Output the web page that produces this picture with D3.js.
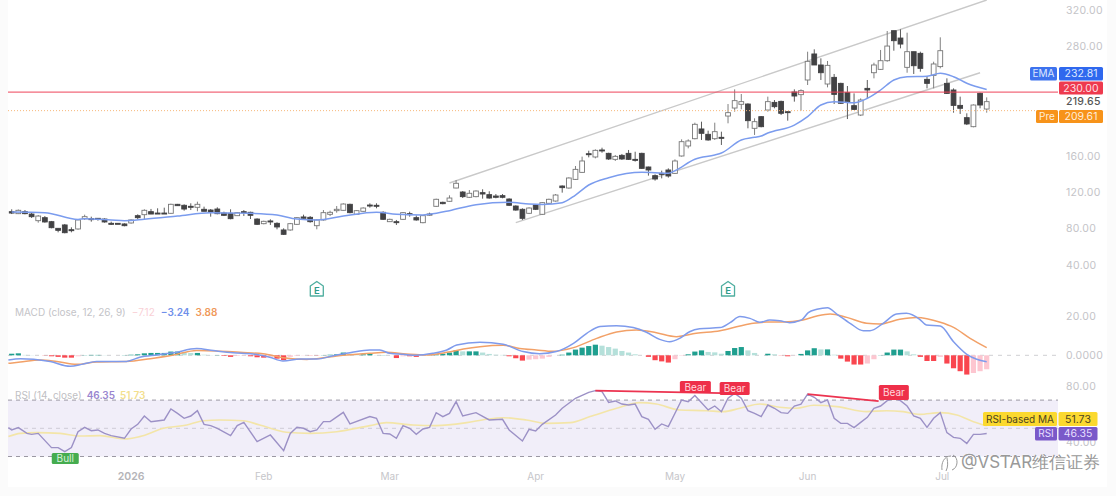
<!DOCTYPE html>
<html>
<head>
<meta charset="utf-8">
<script src="https://cdnjs.cloudflare.com/ajax/libs/d3/7.9.0/d3.min.js"></script>
<style>
html,body{margin:0;padding:0;background:#fbfbfb;overflow:hidden}
svg{display:block}
text{font-family:Inter,"Noto Sans",sans-serif}
</style>
</head>
<body>
<svg id="chart" width="1116" height="496"></svg>
<script>
// Daily candles, one entry per session
const opens=[98.6,96.4,98.6,96.0,88.7,92.0,87.6,80.3,84.0,78.8,79.6,90.9,90.9,91.3,90.5,85.8,85.8,85.1,86.2,94.2,95.3,98.6,97.1,97.1,96.8,106.7,105.6,104.5,103.4,101.2,100.4,101.5,97.1,96.8,94.2,98.6,97.9,90.5,85.4,88.4,85.8,78.5,78.5,84.7,92.8,92.4,83.2,89.5,95.7,99.7,100.1,106.7,95.7,99.0,105.9,105.6,97.9,87.6,87.6,90.2,96.4,92.0,86.5,96.0,104.5,108.9,110.0,124.6,120.2,114.4,115.1,119.5,117.3,115.8,116.2,112.5,104.8,101.2,96.8,105.9,95.7,107.8,110.3,126.8,124.6,134.1,141.8,162.3,158.7,166.4,162.7,156.1,160.5,162.7,156.1,162.7,147.7,138.2,140.7,144.4,140.7,159.8,170.8,178.8,189.5,183.6,178.8,180.3,203.7,212.5,216.6,216.9,190.2,203.0,210.3,218.7,219.8,208.5,230.1,227.2,243.3,271.9,259.8,238.9,246.2,239.6,229.4,215.1,204.8,234.1,251.3,255.0,264.5,297.5,289.4,257.2,274.4,272.6,244.0,248.4,258.0,239.6,232.3,215.4,201.9,192.0,228.6,211.4];
const highs=[101.2,101.0,100.4,97.5,94.9,93.8,88.4,80.3,85.1,81.4,90.2,95.3,93.1,91.3,91.3,87.6,85.8,85.8,90.2,95.7,101.2,101.6,102.3,103.0,107.4,107.1,106.7,107.8,109.6,104.1,101.5,103.4,98.6,101.2,98.2,100.4,98.6,91.3,88.7,90.2,86.9,80.3,86.2,92.7,95.3,93.8,90.2,100.4,99.7,104.8,107.8,107.4,100.4,103.4,107.8,107.8,99.0,90.9,89.5,98.2,98.6,94.6,94.9,97.5,112.9,109.6,116.6,133.4,121.3,122.4,122.0,123.2,121.0,118.0,118.0,113.3,105.6,102.3,103.4,106.7,109.2,112.9,118.0,127.5,136.3,148.8,159.1,165.6,167.1,168.9,163.4,160.9,162.0,166.4,164.5,163.4,148.1,139.6,143.7,146.2,156.1,178.1,178.1,196.4,197.5,187.6,196.4,186.5,216.9,233.0,227.9,217.7,201.2,203.7,225.0,221.3,220.6,208.5,233.0,233.0,274.4,277.0,267.1,264.2,249.9,240.3,236.7,228.6,223.1,243.3,262.3,276.3,297.1,297.5,299.0,295.3,274.4,274.4,247.7,263.4,290.2,245.1,234.1,225.0,206.7,216.5,229.4,224.2];
const lows=[96.0,96.0,95.7,91.7,86.5,86.5,80.3,75.9,74.8,75.9,78.8,89.5,87.6,88.7,86.5,84.0,85.1,82.5,85.4,90.2,90.2,96.0,96.4,96.4,96.4,105.2,99.7,100.4,99.0,99.0,93.1,95.7,93.8,90.2,93.8,93.8,90.5,84.0,84.7,84.0,79.2,73.0,77.7,84.0,90.5,86.5,79.2,88.7,93.8,97.5,99.7,96.8,95.3,98.6,103.0,102.3,89.5,87.3,84.0,89.5,93.1,88.7,85.8,94.6,103.8,106.7,109.6,124.3,113.6,113.6,114.4,112.9,112.9,113.3,113.3,104.8,99.7,89.5,96.0,100.4,95.0,107.0,109.6,119.5,123.9,133.4,141.5,158.3,157.2,163.4,155.4,154.3,155.4,155.4,153.6,145.5,138.2,132.7,135.2,136.0,140.0,159.1,168.2,178.1,177.4,176.6,177.4,171.9,195.7,208.5,211.1,190.2,182.9,191.3,208.5,212.2,204.8,198.6,219.5,209.6,237.8,259.8,243.3,235.2,216.9,217.0,200.4,210.3,203.7,223.1,245.1,254.3,263.4,275.5,278.1,251.3,249.9,252.4,234.1,234.1,256.1,227.9,207.4,206.0,193.8,191.3,212.2,207.4];
const closes=[97.1,100.1,96.4,93.1,93.8,87.3,81.0,78.1,75.5,77.7,89.5,93.1,90.2,90.2,87.3,84.7,85.1,83.2,89.5,92.0,100.1,96.0,96.4,96.4,106.7,105.2,101.5,103.4,106.7,99.0,98.2,96.4,94.6,90.9,97.5,97.9,94.6,84.7,88.0,87.6,81.8,73.7,85.4,92.0,91.3,87.6,89.5,97.5,97.9,101.2,107.0,97.5,99.7,102.6,104.8,104.8,90.2,90.2,86.9,97.5,95.7,89.5,94.2,95.3,112.2,107.4,113.6,129.8,115.1,118.8,121.3,118.0,113.6,114.4,114.4,105.6,100.4,91.3,102.6,101.2,108.5,112.2,116.9,125.0,135.6,145.1,154.3,161.6,166.0,165.3,156.5,159.4,156.5,156.1,155.4,146.2,144.4,134.5,139.6,137.8,154.3,175.5,176.3,194.6,184.7,177.4,186.5,179.2,207.4,220.6,219.5,198.6,197.5,192.0,219.5,214.0,206.7,207.8,225.7,231.6,263.8,259.8,251.3,259.4,227.5,217.7,219.5,211.0,221.3,232.3,259.8,264.5,280.6,286.5,282.8,274.4,259.0,256.1,239.6,260.9,275.5,228.6,215.4,212.2,195.0,215.8,215.8,219.5];

// 20-period EMA, sampled at the session index
const emaIdx=[0,5,10,11,15,17,20,25,30,33,36,40,43,46,50,55,58,62,63,66,70,75,78,80,83,85,87,90,95,97,99,100,103,106,107,110,112,113,114,118,120,122,124,127,129,131,133,135,138,140,142,144,147];
const emaVal=[98.2,97.5,90,90.9,89.5,88.7,90.2,93.8,97.5,97.1,96.8,94.9,90.5,89.5,93.8,97.9,95.7,94.9,95.7,99.7,106.3,108.9,107,106.5,108.5,116.9,127.9,135.9,141.9,141.4,140.8,143.6,156.2,160.9,163,177.4,180.3,181.8,185,193.8,203,215.8,219.5,218.3,223.2,232.3,243.3,246.9,247.4,250.7,246.9,239.7,232.81];

// MACD pane
const macdIdx=[-0.5,1.3,3.3,5.8,8.8,10.8,12.8,17.3,19.3,21.9,24.4,27.9,30.4,33.4,36.4,38.9,40.9,43.5,46,48.5,51,54,55.5,57,59,61,63.5,65.6,67.1,70.6,74.1,77.1,79.6,82.1,84.7,86.7,88.7,91.2,93.7,95.7,97.7,99.2,100.7,102.2,103.7,106.8,108.3,109.8,111.3,112.8,114.3,115.8,117.3,119.1,120.1,121.4,123,124.4,126.4,128.4,129.4,131.4,133.4,134.9,136.9,137.9,140,142,144,145.5,147];
const macdVal=[-2.4,-1.7,-2.0,-3.2,-5.6,-4.4,-3.2,-3.1,-1.0,0.2,1.3,3.4,2.4,1.3,0.7,-1.0,-2.9,-1.9,-1.9,-0.2,1.3,2.7,2.7,1.0,0.5,0,1.0,2.7,5.2,6.6,5.6,1.9,0.8,1.9,6.1,11.2,14.7,15.1,14.1,11.7,8.1,6.9,8.6,12.0,13.5,14.1,16.6,19.7,18.8,16.8,18,17.6,16.6,18,21.7,23.4,24.2,21,16.3,12.5,12.5,16.3,21,21.4,18.3,15.4,14.9,6.9,0.5,-2.0,-3.24];
const signalIdx=[-0.5,1.3,4.3,6.8,9.8,12.8,17.3,20.9,24.4,27.9,30.9,34.4,37.9,40.9,44.5,46.5,49,54,56.5,59.5,62.5,65.6,68.1,70.6,74.1,76.6,79.1,81.6,84.7,88.2,91.2,94.2,97.2,100.2,103.2,106.8,109.8,111.8,113.8,116.3,119.3,121.4,123.4,125.9,128.9,130.9,133.9,136.4,140,142,144.5,147];
const signalVal=[-4.1,-3.4,-2.4,-3.2,-4.6,-3.4,-3.2,-1.7,0.2,2.4,2.2,1.5,0.8,-1.2,-2.1,-1.5,-0.4,1.0,1.5,0.7,0.2,1.5,3.2,4.4,5.1,3.5,2.7,2.0,3.9,8.6,11.9,12.9,11.5,9.5,11.2,12.5,14.9,16.3,16.9,16.9,18,20,21,19.3,16.3,15.9,18.3,19.2,16.8,14.2,8.6,3.88];
const histVal=[.8,1,.2,.1,0,-.1,-.5,-.8,-1.2,-1.2,-.5,.1,.2,.2,.1,0,0,.1,.3,.5,1,1.2,1.2,1.2,1.9,1.9,1.4,1.2,1.2,.3,.1,.1,-.3,-.8,-.3,-.2,-.5,-1,-1.2,-.7,-1.7,-2.5,-.8,-.3,-.1,-.1,-.1,.1,.3,.5,1.4,.8,.5,.5,.8,.1,.1,0,-1.4,-.5,-.5,-.8,-.3,.1,.5,.8,1.4,2.5,2,2,2,1.4,.7,.3,.2,-.5,-1.5,-2.7,-2.2,-2,-1.7,-.8,0,.3,1.4,2.9,3.9,4.7,5.4,4.9,4.2,3.4,2.2,1.4,.5,0,-.8,-2.5,-3.1,-3.7,-2,-.2,.5,1.9,2.5,1.7,1.5,.8,2.2,3.7,4.2,2.5,1.2,0,.8,.5,-.1,-.5,-.1,.7,2.5,3.6,3,3,.3,-1.7,-3.2,-4.7,-4.7,-4.2,-2,.1,1.4,2.9,2.9,2,.5,-.8,-2.9,-2.9,-.8,-4.2,-6.6,-8.1,-9.8,-9,-8.1,-7.12];

// RSI pane
const rsiIdx=[-0.5,0,1,2.3,3,4,6,7,8,9,10,11,12,13,14,15,17,18,19,20,21,23,24,25,26,27,28,29,30,31,33,34,35,37,39,41,42,43,44,45,46,47,48,50,51,54,55,56,57,58,59,60,61,62,63,64,65,66,67,68,70,72,74,75,77,78,79,80,82,83,85,87,88,89,90,91,92,93,94,95,96,97,98,99,101,102,103,105,106,107,108,109,110,111,112,113,114,115,116,117,118,119,120,121,122,123,124,125,126,127,128,129,130,131,132,133,134,135,136,137,138,139,140,141,142,143,144,145,146,147];
const rsiVal=[50.5,48.8,50.5,46.4,45.7,46.4,36.3,36.3,33.4,36.3,47.6,50.7,48.3,48.8,46.4,44.8,42.9,49.5,52.8,58.7,54.7,55.9,63.7,60.6,57.1,58.7,62.5,52.8,51.9,50,44.8,51.9,54.2,40.5,45.3,34.2,46.4,50.7,50,47.6,48.8,54.7,54.7,61.3,53.1,58.3,57.1,46.4,46,42.9,51.9,50,45.7,49.5,50.7,61.1,58.3,60.6,68.9,58.7,61.1,55.9,56.4,48.8,41,49.3,48.1,52.8,59.4,64.2,71.3,75.5,76.7,76,68.4,69.4,67.2,66.5,67.2,58.3,56.4,49.3,53.1,51.2,70.1,68.9,73.2,63,65.8,61.8,71.3,74.8,71.3,62.5,60.6,58.3,66.5,64.2,61.1,60.6,65.8,67.2,74.3,72,68.2,70.1,57.1,53.5,53.5,50.5,54.2,57.8,64.2,65.8,69.6,71.3,69.6,65.8,58.7,57.1,50.7,57.1,61.1,46.9,43.6,42.9,39.3,45.7,45.7,46.35];
const rsiMaIdx=[-0.5,1.3,3.8,7.3,10.3,13.3,17,19.3,22.9,26.4,28.9,31.4,34.9,37.4,41.4,45,49,54,56.5,60.5,64,68.6,71.6,74.1,77.6,80.6,84.2,87.2,91.2,94.7,97.2,100.7,104.8,107.3,109.8,112.8,115.8,118.3,120.9,124.4,128.9,131.9,134.4,136.9,140,142.5,145,147];
const rsiMaVal=[44.1,46.4,46.9,46.4,44.5,44.8,42.4,44.1,50,52.3,55.4,55.9,55.4,52.3,47.2,46.4,47.6,51.9,54,52.3,51.9,54,56.4,57.5,55.9,53.5,54,58.3,64.2,68.2,67.2,63,62.5,61.8,64.2,67.2,64.9,64.2,66.3,65.4,61.8,62.5,61.8,59.9,61.1,59.4,54.7,51.73];

// Annotations
const channelUpperIdx=[66,147], channelUpperVal=[130.1,331.2];
const channelLowerIdx=[76,146], channelLowerVal=[86.5,251.3];
const divergenceA={idx:[88,109],val:[76.7,74.8]};
const divergenceB={idx:[120,130.7],val:[74.3,69.2]};
const earningsIdx=[46,108];
const priceTicks=[320,280,160,120,80,40];
const macdTicks=[20,0];
const rsiTicks=[80,40];
const monthLabels=["2026","Feb","Mar","Apr","May","Jun","Jul"];
const monthIdx=[18,38,57,79,100,120,140.3];

const PLOT_L=8, PLOT_R=1058;
const svg=d3.select("#chart");
const x=d3.scaleLinear().domain([0,147]).range([11.7,986.7]);
const yPrice=d3.scaleLinear().domain([40,320]).range([265,10.2]);
const yMacd=d3.scaleLinear().domain([0,20]).range([355.3,316]);
const yRsi=d3.scaleLinear().domain([30,70]).range([456.5,400.1]);

const GREY="#c4c4c8";
svg.append("rect").attr("x",8).attr("y",0).attr("width",1099).attr("height",487).attr("fill","#fff");

// ---------- price pane ----------
const gP=svg.append("g");
const seg=(g,a,b,c)=>g.append("line").attr("x1",x(a.i[0])).attr("x2",x(a.i[1])).attr("y1",b(a.v[0])).attr("y2",b(a.v[1])).attr("stroke",c.color).attr("stroke-width",c.w);
seg(gP,{i:channelUpperIdx,v:channelUpperVal},yPrice,{color:"#c9c9c9",w:1.4});
seg(gP,{i:channelLowerIdx,v:channelLowerVal},yPrice,{color:"#c9c9c9",w:1.4});

const session=d3.range(opens.length);
gP.selectAll("line.wick").data(session).join("line").attr("class","wick")
  .attr("x1",i=>x(i)).attr("x2",i=>x(i)).attr("y1",i=>yPrice(highs[i])).attr("y2",i=>yPrice(lows[i]))
  .attr("stroke",i=>closes[i]>=opens[i]?"#808080":"#5c5c5c").attr("stroke-width",1);
gP.selectAll("rect.body").data(session).join("rect").attr("class","body")
  .attr("x",i=>x(i)-2.4).attr("width",4.8)
  .attr("y",i=>yPrice(Math.max(opens[i],closes[i])))
  .attr("height",i=>Math.max(1,Math.abs(yPrice(opens[i])-yPrice(closes[i]))))
  .attr("fill",i=>closes[i]>=opens[i]?"#fff":"#424244")
  .attr("stroke",i=>closes[i]>=opens[i]?"#777":"#424244").attr("stroke-width",.9);

const lineOf=(xs,ys,yS,curve)=>d3.line().x((d,k)=>x(xs[k])).y((d,k)=>yS(ys[k])).curve(curve||d3.curveLinear)(xs);
gP.append("path").attr("d",lineOf(emaIdx,emaVal,yPrice,d3.curveMonotoneX)).attr("fill","none").attr("stroke","#7b9cee").attr("stroke-width",1.5);

gP.append("line").attr("x1",PLOT_L).attr("x2",PLOT_R).attr("y1",yPrice(230)).attr("y2",yPrice(230)).attr("stroke","#ee4459").attr("stroke-width",1);
gP.append("line").attr("x1",PLOT_L).attr("x2",1036).attr("y1",yPrice(209.61)).attr("y2",yPrice(209.61)).attr("stroke","#f7b77a").attr("stroke-width",1).attr("stroke-dasharray","1 2");

// earnings markers
const eG=svg.selectAll("g.earn").data(earningsIdx).join("g").attr("class","earn").attr("transform",i=>`translate(${x(i)},289)`);
eG.append("path").attr("d","M-6.5,-3 L0,-7.5 L6.5,-3 L6.5,7 L-6.5,7 Z").attr("fill","#fff").attr("stroke","#4fae9f").attr("stroke-width",1.3).attr("stroke-linejoin","round");
eG.append("text").attr("y",4.5).attr("text-anchor","middle").attr("font-size",9.5).attr("font-weight",600).attr("fill","#2f9b8b").text("E");

// ---------- MACD pane ----------
const gM=svg.append("g");
gM.append("line").attr("x1",PLOT_L).attr("x2",PLOT_R).attr("y1",yMacd(0)).attr("y2",yMacd(0)).attr("stroke","#cfcfd2").attr("stroke-width",1).attr("stroke-dasharray","4 5");
const histColor=(v,i)=>{const p=i?histVal[i-1]:0;
  if(v>=0) return v>=p?"#1f9f8f":"#b5e0da";
  return v<=p?"#f9464f":"#fdc6d0";};
gM.selectAll("rect").data(histVal).join("rect")
  .attr("x",(v,i)=>x(i)-2.6).attr("width",5.2)
  .attr("y",v=>yMacd(Math.max(v,0))).attr("height",v=>Math.abs(yMacd(v)-yMacd(0)))
  .attr("fill",histColor);
gM.append("path").attr("d",lineOf(signalIdx,signalVal,yMacd,d3.curveMonotoneX)).attr("fill","none").attr("stroke","#f2a168").attr("stroke-width",1.5);
gM.append("path").attr("d",lineOf(macdIdx,macdVal,yMacd,d3.curveMonotoneX)).attr("fill","none").attr("stroke","#7f9bec").attr("stroke-width",1.5);

// ---------- RSI pane ----------
const gR=svg.append("g");
gR.append("rect").attr("x",PLOT_L).attr("width",PLOT_R-PLOT_L).attr("y",yRsi(70)).attr("height",yRsi(30)-yRsi(70)).attr("fill","#f1eef9");
[70,50,30].forEach(l=>gR.append("line").attr("x1",PLOT_L).attr("x2",PLOT_R).attr("y1",yRsi(l)).attr("y2",yRsi(l))
  .attr("stroke",l===50?"#cfcbd6":"#9b98a3").attr("stroke-width",1).attr("stroke-dasharray","4 4"));
gR.append("path").attr("d",lineOf(rsiMaIdx,rsiMaVal,yRsi,d3.curveMonotoneX)).attr("fill","none").attr("stroke","#f3e5a8").attr("stroke-width",1.6);
gR.append("path").attr("d",lineOf(rsiIdx,rsiVal,yRsi)).attr("fill","none").attr("stroke","#9c91c6").attr("stroke-width",1.4);
seg(gR,{i:divergenceA.idx,v:divergenceA.val},yRsi,{color:"#ec3450",w:1.8});
seg(gR,{i:divergenceB.idx,v:divergenceB.val},yRsi,{color:"#ec3450",w:1.8});

const tag=(g,x0,y0,w,h,fill,label,size,col,anchor)=>{
  g.append("rect").attr("x",x0).attr("y",y0).attr("width",w).attr("height",h).attr("rx",1.5).attr("fill",fill);
  g.append("text").attr("x",anchor==="start"?x0+4:x0+w/2).attr("y",y0+h/2+3.6).attr("text-anchor",anchor||"middle")
    .attr("font-size",size).attr("fill",col).text(label);
};
tag(svg,x(103)-15,381,31,12,"#ee2f49","Bear",10,"#ffd9de");
tag(svg,x(109)-15,382,30,13,"#ee2f49","Bear",10,"#ffd9de");
tag(svg,x(133)-15,385,30,15,"#ee2f49","Bear",10,"#ffd9de");
tag(svg,x(8)-13,453,27,11,"#45ac4f","Bull",10,"#d8f2da");

// ---------- right-hand scales ----------
const axisStyle=g=>{g.select(".domain").remove();g.selectAll(".tick line").remove();
  g.selectAll("text").attr("x",0).attr("text-anchor","start").attr("font-family","Inter").attr("font-size",10.5).attr("fill",GREY).style("letter-spacing",".25px");};
svg.append("g").attr("transform","translate(1066,0)").call(d3.axisRight(yPrice).tickValues(priceTicks).tickFormat(d3.format(".2f"))).call(axisStyle);
svg.append("g").attr("transform","translate(1066,0)").call(d3.axisRight(yMacd).tickValues(macdTicks).tickFormat((d,k)=>d?d3.format(".2f")(d):"0.0000")).call(axisStyle);
svg.append("g").attr("transform","translate(1066,0)").call(d3.axisRight(yRsi).tickValues(rsiTicks).tickFormat(d3.format(".2f"))).call(axisStyle);

// price-scale tags
tag(svg,1030,67,27,13.5,"#3d72ee","EMA",10,"#dfe8ff");
tag(svg,1059,67,44,13.5,"#2f68ee",d3.format(".2f")(emaVal[emaVal.length-1]),10.5,"#dfe8ff");
tag(svg,1059,81.5,44,13,"#ee3a4e","230.00",10.5,"#ffdfe3");
svg.append("text").attr("x",1066).attr("y",105.2).attr("font-size",10.5).attr("font-weight",500).attr("fill","#555").style("letter-spacing",".25px").text("219.65");
tag(svg,1036,110,22,13,"#f7931a","Pre",10,"#ffeeda");
tag(svg,1059,110,44,13,"#f7931a","209.61",10.5,"#ffeeda");
tag(svg,983,412,74,14,"#fbd92f","RSI-based MA",10,"#4d4420");
tag(svg,1058.5,412,39,14,"#fbd92f","51.73",10.5,"#4d4420");
tag(svg,1035,427,22,13.5,"#7a59c9","RSI",10,"#e6dfff");
tag(svg,1058.5,427,39,13.5,"#7a59c9","46.35",10.5,"#e6dfff");

// time axis
const tG=svg.append("g").selectAll("text").data(monthLabels).join("text")
  .attr("x",(d,k)=>x(monthIdx[k])).attr("y",480).attr("text-anchor","middle")
  .attr("font-size",(d,k)=>k?10:10.5).attr("font-weight",(d,k)=>k?400:600)
  .attr("fill",(d,k)=>k?"#c6c6ca":"#b4b4b8").text(d=>d);

// pane legends
const legend=(y0,parts)=>{const t=svg.append("text").attr("x",15).attr("y",y0).attr("font-size",10);
  parts.forEach(p=>t.append("tspan").attr("fill",p[1]).attr("font-weight",p[2]||400).attr("dx",p[3]||0).text(p[0]));};
legend(316,[["MACD (close, 12, 26, 9)","#c4c4c8"],["\u22127.12","#f9d0d6",400,6],["\u22123.24","#6f8fea",600,6],["3.88","#f0995a",600,6]]);
legend(399,[["RSI (14, close)","#bfbfc4"],["46.35","#9a86cf",600,5],["51.73","#f3e08e",600,5]]);

// publisher mark
const wm=svg.append("g");
wm.append("path").attr("d","M951,456 C944,456 941,463 942,470 M952,470 C958,468 959,458 953,455 M947,458 C948,463 948,467 946,471").attr("fill","none").attr("stroke","#999").attr("stroke-width",1);
wm.append("text").attr("x",961).attr("y",468).attr("font-family","'Noto Sans CJK SC','Noto Sans',sans-serif").attr("font-size",17)
  .attr("fill","#999").attr("stroke","#fff").attr("stroke-width",.5).style("paint-order","stroke").text("@VSTAR维信证券");
</script>
</body>
</html>
